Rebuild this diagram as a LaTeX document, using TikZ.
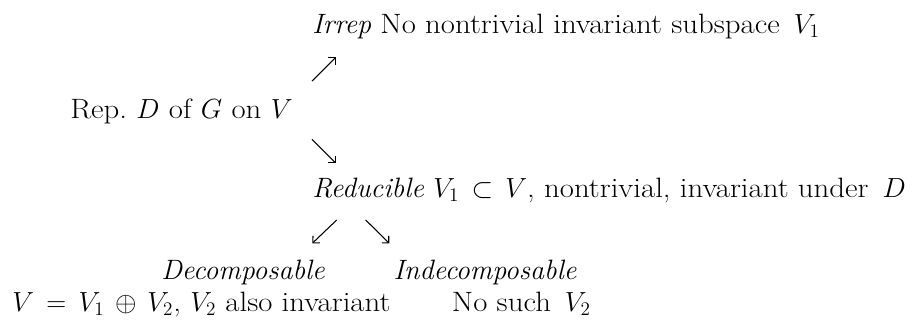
\documentclass[tikz,border=0pt]{standalone}
\usepackage{fontspec}
\setmainfont{Latin Modern Roman}[UprightFeatures={FakeStretch=1.1}]
\usetikzlibrary{arrows.meta}
\tikzset{
  lbl/.style={anchor=base west, inner sep=0pt, font=\fontsize{21}{25}\selectfont},
  arr/.style={line width=0.8pt, -{Straight Barb[length=3.7pt,width=7.4pt,line width=0.8pt]}}
}
\begin{document}
\begin{tikzpicture}[x=0.75pt,y=-0.75pt]
\useasboundingbox (0,0) rectangle (914,326);
\node[lbl] (irrep) at (312,33.3) {\textit{Irrep} No nontrivial invariant subspace\, $V_1$};
\node[lbl] (rep) at (70,118.3) {Rep.\ $D$ of $G$ on $V$};
\node[lbl] (red) at (312,197.7) {\textit{Reducible} $V_1\,\subset\, V$, nontrivial, invariant under\, $D$};
\node[lbl] (dec) at (161,279.3) {\textit{Decomposable}};
\node[lbl] (indec) at (393.3,279.3) {\textit{Indecomposable}};
\node[lbl] (vsum) at (12,311.7) {$V\,=\,V_1\,\oplus\, V_2$, $V_2$ also invariant};
\node[lbl] (nosuch) at (451.7,311.7) {No such\, $V_2$};
\coordinate (a1s) at (312,81);
\coordinate (a1e) at (336,57);
\coordinate (a2s) at (312,139.3);
\coordinate (a2e) at (336,163.3);
\coordinate (a3s) at (336.7,220);
\coordinate (a3e) at (312.3,243.3);
\coordinate (a4s) at (365.7,220);
\coordinate (a4e) at (389.3,243.3);
\draw[arr] (a1s) -- (a1e);
\draw[arr] (a2s) -- (a2e);
\draw[arr] (a3s) -- (a3e);
\draw[arr] (a4s) -- (a4e);
\end{tikzpicture}
\end{document}
